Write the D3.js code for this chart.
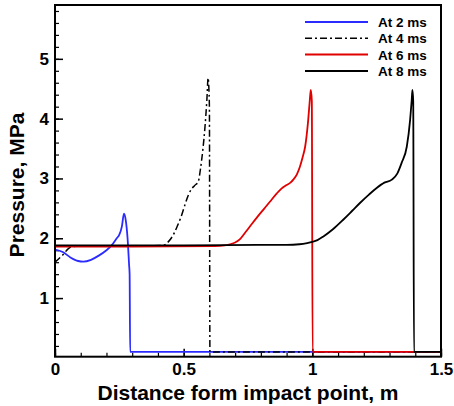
<!DOCTYPE html>
<html>
<head>
<meta charset="utf-8">
<script src="https://cdn.jsdelivr.net/npm/d3@7"></script>
<style>
  body { margin: 0; background: #fff; }
  text { font-family: "Liberation Sans", Arial, sans-serif; font-weight: bold; }
</style>
</head>
<body>
<div id="js-chart"></div>
<script>
// Data -------------------------------------
var seriesNames = ['At 2 ms', 'At 4 ms', 'At 6 ms', 'At 8 ms'];

var x2ms = [0, 0.03, 0.06, 0.09, 0.11, 0.14, 0.17, 0.2, 0.22, 0.24, 0.25, 0.26, 0.268, 0.275, 0.282, 0.288, 0.29, 0.292, 1.5];
var y2ms = [1.81, 1.77, 1.68, 1.62, 1.61, 1.64, 1.71, 1.8, 1.88, 2.0, 2.06, 2.2, 2.41, 2.3, 2.0, 1.55, 1.4, 0.1, 0.1];

var x4ms = [0, 0.03, 0.06, 0.1, 0.3, 0.42, 0.44, 0.46, 0.475, 0.49, 0.505, 0.518, 0.53, 0.542, 0.557, 0.565, 0.575, 0.583, 0.59, 0.595, 0.598, 0.6, 0.602, 1.5];
var y4ms = [1.6, 1.72, 1.85, 1.87, 1.87, 1.88, 1.94, 2.06, 2.2, 2.36, 2.56, 2.72, 2.82, 2.88, 2.95, 3.15, 3.5, 3.87, 4.3, 4.68, 4.5, 4.2, 0.1, 0.1];

var x6ms = [0, 0.3, 0.62, 0.66, 0.68, 0.7, 0.72, 0.74, 0.758, 0.785, 0.81, 0.835, 0.862, 0.88, 0.9, 0.915, 0.926, 0.94, 0.952, 0.962, 0.972, 0.984, 0.99, 0.994, 0.998, 1.001, 1.5];
var y6ms = [1.86, 1.86, 1.87, 1.88, 1.9, 1.93, 1.99, 2.1, 2.2, 2.35, 2.48, 2.61, 2.75, 2.83, 2.89, 2.93, 2.98, 3.07, 3.2, 3.35, 3.53, 3.98, 4.3, 4.48, 4.3, 0.1, 0.1];

var x8ms = [0, 0.5, 0.8, 0.9, 0.95, 0.98, 1.0, 1.02, 1.043, 1.08, 1.12, 1.155, 1.185, 1.22, 1.25, 1.28, 1.309, 1.33, 1.347, 1.367, 1.38, 1.386, 1.389, 1.392, 1.395, 1.5];
var y8ms = [1.88, 1.88, 1.89, 1.89, 1.9, 1.92, 1.94, 1.97, 2.03, 2.15, 2.31, 2.46, 2.59, 2.73, 2.84, 2.93, 2.98, 3.08, 3.26, 3.53, 3.98, 4.3, 4.48, 4.3, 0.1, 0.1];

var xTickValues = [0, 0.5, 1, 1.5];
var xTickLabels = ['0', '0.5', '1', '1.5'];
var yTickValues = [1, 2, 3, 4, 5];
var yTickLabels = ['1', '2', '3', '4', '5'];

// Chart settings -------------------------------------
var width = 454;
var height = 406;
var plotLeft = 55, plotRight = 441, plotTop = 5, plotBottom = 356.7;

var xScale = d3.scaleLinear().domain([0, 1.5]).range([plotLeft, plotRight]);
var yScale = d3.scaleLinear().domain([0.02, 5.9]).range([plotBottom, plotTop]);

var svg = d3.select('#js-chart')
  .append('svg')
  .attr('width', width)
  .attr('height', height);

// Minor ticks
var xMinor = d3.range(0, 15.01, 1).map(function(d) { return d / 10; });
var yMinor = d3.range(1, 29.5, 1).map(function(d) { return d / 5; });

svg.append('g')
  .attr('transform', 'translate(0,' + plotBottom + ')')
  .call(d3.axisBottom(xScale).tickValues(xMinor).tickSize(-4).tickFormat(''))
  .call(function(g) { g.select('.domain').remove(); })
  .selectAll('line').attr('stroke-width', 1.2);

svg.append('g')
  .attr('transform', 'translate(' + plotLeft + ',0)')
  .call(d3.axisLeft(yScale).tickValues(yMinor).tickSize(-4).tickFormat(''))
  .call(function(g) { g.select('.domain').remove(); })
  .selectAll('line').attr('stroke-width', 1.2);

// Major ticks + labels
var xAxis = svg.append('g')
  .attr('transform', 'translate(0,' + plotBottom + ')')
  .call(d3.axisBottom(xScale).tickValues(xTickValues).tickSize(-8).tickPadding(6)
    .tickFormat(function(d, i) { return xTickLabels[i]; }));
xAxis.select('.domain').remove();
xAxis.selectAll('line').attr('stroke-width', 1.5);
xAxis.selectAll('text').attr('font-size', 17).attr('fill', '#000')
  .style('font-family', '"Liberation Sans", Arial, sans-serif').style('font-weight', 'bold');

var yAxis = svg.append('g')
  .attr('transform', 'translate(' + plotLeft + ',0)')
  .call(d3.axisLeft(yScale).tickValues(yTickValues).tickSize(-8).tickPadding(6)
    .tickFormat(function(d, i) { return yTickLabels[i]; }));
yAxis.select('.domain').remove();
yAxis.selectAll('line').attr('stroke-width', 1.5);
yAxis.selectAll('text').attr('font-size', 17).attr('fill', '#000')
  .style('font-family', '"Liberation Sans", Arial, sans-serif').style('font-weight', 'bold');

// Lines -------------------------------------
var seriesList = [
  { name: seriesNames[0], xs: x2ms, ys: y2ms, color: '#2b2bff', dash: null, w: 1.8 },
  { name: seriesNames[1], xs: x4ms, ys: y4ms, color: '#000000', dash: '7,3,2,3', w: 1.5 },
  { name: seriesNames[2], xs: x6ms, ys: y6ms, color: '#e00000', dash: null, w: 1.8 },
  { name: seriesNames[3], xs: x8ms, ys: y8ms, color: '#000000', dash: null, w: 1.8 }
];

var line = d3.line()
  .x(function(d) { return xScale(d[0]); })
  .y(function(d) { return yScale(d[1]); })
  .curve(d3.curveMonotoneX);

var plot = svg.append('g');
seriesList.forEach(function(s) {
  var pts = s.xs.map(function(x, i) { return [x, s.ys[i]]; });
  plot.append('path')
    .datum(pts)
    .attr('d', line)
    .attr('fill', 'none')
    .attr('stroke', s.color)
    .attr('stroke-width', s.w)
    .attr('stroke-dasharray', s.dash);
});

// Frame
svg.append('rect')
  .attr('x', plotLeft)
  .attr('y', plotTop)
  .attr('width', plotRight - plotLeft)
  .attr('height', plotBottom - plotTop)
  .attr('fill', 'none')
  .attr('stroke', '#000')
  .attr('stroke-width', 2);

// Legend -------------------------------------
var legendY = [22, 38.3, 54.5, 71];
var legend = svg.append('g');
seriesList.forEach(function(s, i) {
  legend.append('line')
    .attr('x1', 305).attr('x2', 368)
    .attr('y1', legendY[i]).attr('y2', legendY[i])
    .attr('stroke', s.color)
    .attr('stroke-width', s.w)
    .attr('stroke-dasharray', s.dash);
  legend.append('text')
    .attr('x', 378)
    .attr('y', legendY[i] + 5)
    .attr('font-size', 13.5)
    .text(s.name);
});

// Axis titles
svg.append('text')
  .attr('x', (plotLeft + plotRight) / 2)
  .attr('y', 400)
  .attr('text-anchor', 'middle')
  .attr('font-size', 21)
  .text('Distance form impact point, m');

svg.append('text')
  .attr('transform', 'translate(24,185) rotate(-90)')
  .attr('text-anchor', 'middle')
  .attr('font-size', 21)
  .text('Pressure, MPa');
</script>
</body>
</html>
